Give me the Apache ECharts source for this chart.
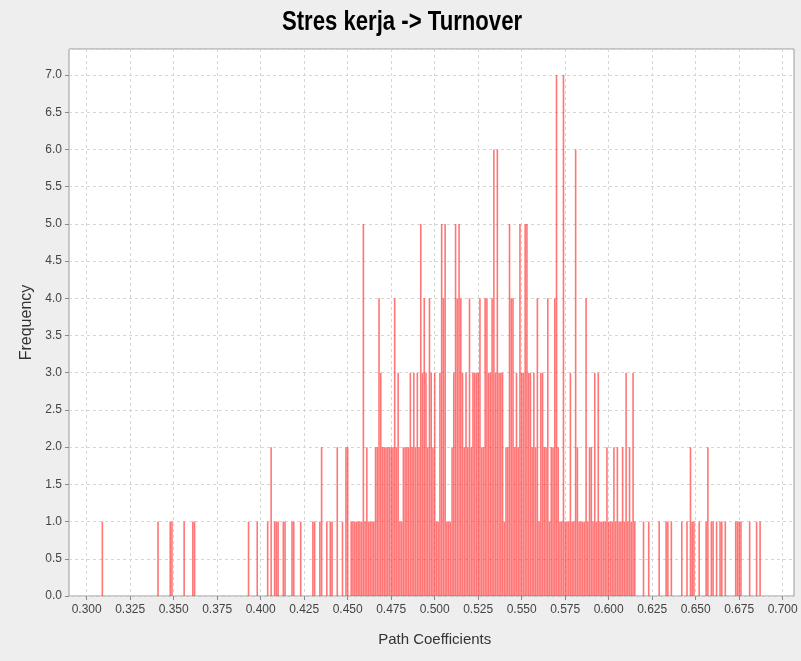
<!DOCTYPE html>
<html>
<head>
<meta charset="utf-8">
<script src="https://cdn.jsdelivr.net/npm/echarts@6/dist/echarts.min.js"></script>
<style>
  html, body { margin: 0; padding: 0; background: #eeeeee; }
  #chart { width: 801px; height: 661px; }
</style>
</head>
<body>
<div id="chart"></div>
<script>
// sparse bootstrap estimates below the main mass
var lowCoef = [0.309, 0.341, 0.348, 0.349, 0.356, 0.361, 0.362, 0.393, 0.398, 0.404,
  0.406, 0.408, 0.409, 0.410, 0.413, 0.414, 0.418, 0.419, 0.423, 0.430,
  0.431, 0.434, 0.435, 0.438, 0.440, 0.441, 0.444, 0.447, 0.449, 0.450, 0.452];
var lowFreq = [1, 1, 1, 1, 1, 1, 1, 1, 1, 1,
  2, 1, 1, 1, 1, 1, 1, 1, 1, 1,
  1, 1, 2, 1, 1, 1, 2, 1, 2, 2, 1];

// dense part, one bin per 0.001 starting at 0.453
var denseStart = 0.453;
var denseStep = 0.001;
var denseFreq = [
  1, 1, 1, 1, 1, 1, 5, 1, 2, 1, 1, 1, 1, 2, 2, 4, 3, 2, 2, 2, 2, 2,       // 0.453 - 0.474
  2, 2, 4, 2, 3, 1, 1, 2, 2, 2, 2, 3, 2, 3, 2, 3, 2, 5, 3, 4,             // 0.475 - 0.494
  3, 2, 4, 3, 2, 3, 1, 1, 3, 5, 4, 5, 1, 1, 1, 2, 3, 5, 4, 5,             // 0.495 - 0.514
  4, 3, 2, 3, 2, 4, 2, 3, 3, 3, 3, 4, 2, 2, 4, 4, 3, 3, 4, 6,             // 0.515 - 0.534
  3, 6, 3, 3, 3, 1, 2, 2, 5, 4, 4, 2, 3, 2, 5, 3, 3, 5, 5, 3,             // 0.535 - 0.554
  3, 2, 3, 2, 4, 1, 3, 3, 2, 2, 4, 1, 2, 2, 4, 7, 2, 1, 1, 7,             // 0.555 - 0.574
  1, 1, 1, 3, 1, 1, 6, 2, 1, 1, 1, 1, 4, 1, 2, 2, 1, 3, 1, 3,             // 0.575 - 0.594
  1, 1, 1, 1, 2, 1, 1, 1, 2, 1, 2, 1, 1, 2, 1, 3, 1, 2, 1, 3, 1           // 0.595 - 0.615
];

// sparse tail above
var highCoef = [0.620, 0.623, 0.629, 0.633, 0.634, 0.636, 0.642, 0.645, 0.647, 0.648,
  0.649, 0.652, 0.656, 0.657, 0.659, 0.660, 0.662, 0.664, 0.665, 0.667,
  0.673, 0.674, 0.675, 0.676, 0.681, 0.685, 0.687];
var highFreq = [1, 1, 1, 1, 1, 1, 1, 1, 2, 1,
  1, 1, 1, 2, 1, 1, 1, 1, 1, 1,
  1, 1, 1, 1, 1, 1, 1];

var bars = [];
lowCoef.forEach(function (c, i) { bars.push([c, lowFreq[i]]); });
denseFreq.forEach(function (f, i) {
  bars.push([+(denseStart + i * denseStep).toFixed(3), f]);
});
highCoef.forEach(function (c, i) { bars.push([c, highFreq[i]]); });

var labelFont = 'Liberation Sans, Arial, sans-serif';
var gridLine = { show: true, lineStyle: { color: '#d6d6d6', type: [3, 3], width: 1 } };

var chart = echarts.init(document.getElementById('chart'));
chart.setOption({
  animation: false,
  backgroundColor: '#eeeeee',
  // title drawn as graphic so it can be squeezed like the narrow bold face in the original
  graphic: [{
    type: 'text',
    x: 402,
    y: 23,
    scaleX: 0.82,
    silent: true,
    style: {
      text: 'Stres kerja -> Turnover',
      font: 'bold 27px Liberation Sans, Arial, sans-serif',
      fill: '#000',
      align: 'center',
      verticalAlign: 'middle'
    }
  }],
  grid: [
    { left: 69, right: 7, top: 49, bottom: 65, show: true,
      backgroundColor: '#ffffff', borderColor: '#9a9a9a', borderWidth: 1 },
    { left: 86.7, right: 18.3, top: 49, bottom: 65 }
  ],
  xAxis: [
    { gridIndex: 0, type: 'value', min: 0, max: 1, show: false },
    {
      gridIndex: 1,
      type: 'value',
      min: 0.3,
      max: 0.7,
      interval: 0.025,
      axisLine: { show: false },
      axisTick: { show: true, length: 4, lineStyle: { color: '#888' } },
      axisLabel: {
        color: '#444', fontSize: 12, fontFamily: labelFont, margin: 8,
        formatter: function (v) { return v.toFixed(3); }
      },
      splitLine: gridLine,
      name: 'Path Coefficients',
      nameLocation: 'middle',
      nameGap: 36,
      nameTextStyle: { color: '#333', fontSize: 15, fontFamily: labelFont }
    }
  ],
  yAxis: [
    {
      gridIndex: 0,
      type: 'value',
      min: 0,
      max: 7.35,
      interval: 0.5,
      axisLine: { show: false },
      axisTick: { show: true, length: 4, lineStyle: { color: '#888' } },
      axisLabel: {
        color: '#444', fontSize: 12, fontFamily: labelFont, margin: 7,
        showMaxLabel: false,
        formatter: function (v) { return v.toFixed(1); }
      },
      splitLine: gridLine,
      name: 'Frequency',
      nameLocation: 'middle',
      nameGap: 33,
      nameRotate: 90,
      nameTextStyle: { color: '#333', fontSize: 16, fontFamily: labelFont }
    },
    { gridIndex: 1, type: 'value', min: 0, max: 7.35, show: false }
  ],
  series: [{
    type: 'bar',
    xAxisIndex: 1,
    yAxisIndex: 1,
    barWidth: 1.6,
    silent: true,
    itemStyle: { color: 'rgba(255, 60, 60, 0.7)' },
    data: bars
  }]
});
</script>
</body>
</html>
